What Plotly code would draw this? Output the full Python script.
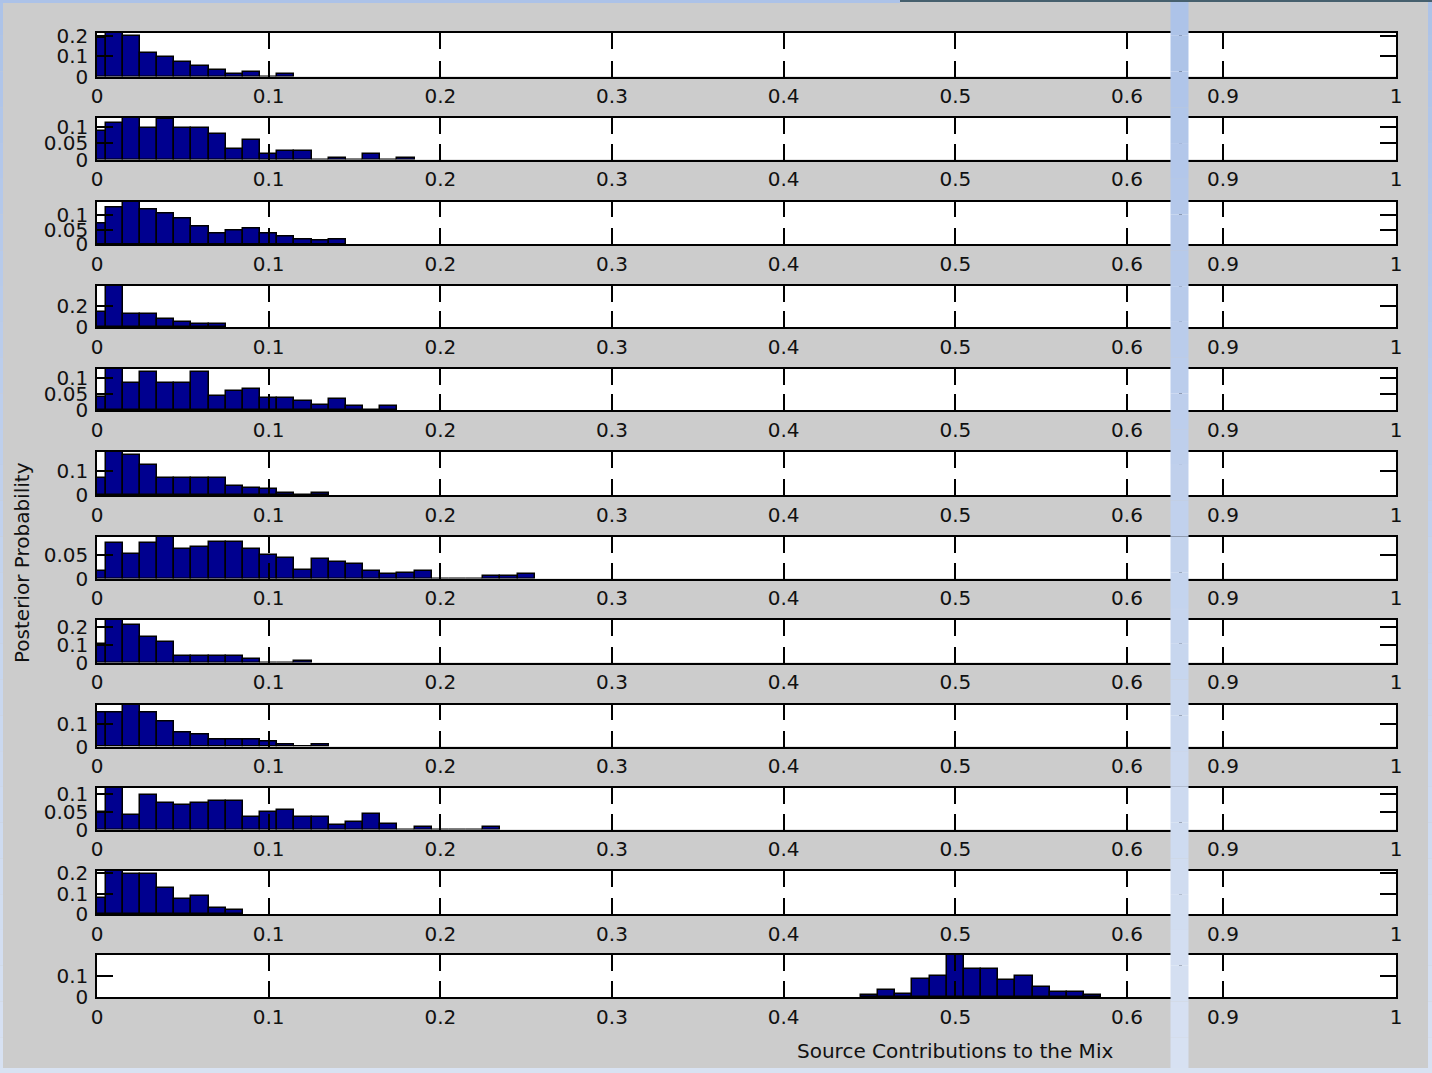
import plotly.graph_objects as go

# Posterior probability histograms, one row per source (bin width 0.01,
# bins centred on multiples of 0.01).  Each row: first bin centre + heights.
BIN_WIDTH = 0.01

src01_start = 0.0
src01 = [0.190, 0.215, 0.198, 0.116, 0.096, 0.073, 0.053, 0.030, 0.010, 0.020, 0.000, 0.013]

src02_start = 0.0
src02 = [0.086, 0.112, 0.127, 0.096, 0.124, 0.096, 0.096, 0.077, 0.032, 0.060, 0.017, 0.027,
         0.027, 0.000, 0.005, 0.000, 0.018, 0.000, 0.005]

src03_start = 0.0
src03 = [0.072, 0.127, 0.148, 0.121, 0.107, 0.090, 0.061, 0.035, 0.047, 0.055, 0.035, 0.026,
         0.017, 0.012, 0.017]

src04_start = 0.0
src04 = [0.147, 0.398, 0.131, 0.131, 0.082, 0.049, 0.026, 0.026]

src05_start = 0.0
src05 = [0.041, 0.128, 0.085, 0.118, 0.085, 0.085, 0.118, 0.044, 0.059, 0.065, 0.038, 0.038,
         0.028, 0.017, 0.033, 0.012, 0.000, 0.012]

src06_start = 0.0
src06 = [0.073, 0.182, 0.168, 0.126, 0.073, 0.073, 0.073, 0.073, 0.039, 0.031, 0.024, 0.007,
         0.000, 0.007]

src07_start = 0.0
src07 = [0.016, 0.076, 0.053, 0.076, 0.090, 0.063, 0.068, 0.079, 0.079, 0.063, 0.050, 0.045,
         0.019, 0.042, 0.036, 0.031, 0.016, 0.009, 0.012, 0.017, 0.000, 0.000, 0.000, 0.005,
         0.005, 0.009]

src08_start = 0.0
src08 = [0.103, 0.238, 0.210, 0.144, 0.116, 0.036, 0.036, 0.036, 0.036, 0.019, 0.000, 0.000,
         0.007]

src09_start = 0.0
src09 = [0.152, 0.152, 0.190, 0.152, 0.111, 0.065, 0.056, 0.030, 0.030, 0.030, 0.023, 0.008,
         0.000, 0.011]

src10_start = 0.0
src10 = [0.050, 0.117, 0.040, 0.098, 0.075, 0.070, 0.075, 0.080, 0.080, 0.035, 0.050, 0.055,
         0.036, 0.036, 0.012, 0.022, 0.045, 0.016, 0.000, 0.007, 0.000, 0.000, 0.000, 0.007]

src11_start = 0.0
src11 = [0.077, 0.210, 0.197, 0.197, 0.128, 0.071, 0.087, 0.029, 0.020]

src12_start = 0.45
src12 = [0.008, 0.032, 0.016, 0.087, 0.098, 0.198, 0.130, 0.130, 0.082, 0.098, 0.048, 0.024,
         0.024, 0.008]

# y tick spacing used on each row
ytick_steps = [0.1, 0.05, 0.05, 0.2, 0.05, 0.1, 0.05, 0.1, 0.1, 0.05, 0.1, 0.1]

x_label = "Source Contributions to the Mix"
y_label = "Posterior Probability"

rows = [
    (src01_start, src01), (src02_start, src02), (src03_start, src03), (src04_start, src04),
    (src05_start, src05), (src06_start, src06), (src07_start, src07), (src08_start, src08),
    (src09_start, src09), (src10_start, src10), (src11_start, src11), (src12_start, src12),
]

# ---------------------------------------------------------------- layout geometry
W, H = 1432, 1073
row_tops = [33, 118, 201.5, 286, 369, 452, 537, 620, 704.5, 788, 871, 955]
row_bots = [76.5, 159.5, 244, 327, 410, 495, 578.5, 662.5, 746.5, 829.5, 914, 997]

# the 0..1 axis is shown in two pieces: 0..~0.63 and ~0.876..1
left_px = (97, 1180)
right_px = (1181, 1396)
left_range = [0, (left_px[1] - left_px[0]) / 1716.7]
right_range = [1 - (right_px[1] - right_px[0]) / 1730.0, 1.0]

FONT = dict(family="DejaVu Sans, Liberation Sans, sans-serif", size=20, color="#111111")
BAR_FILL = "#00008f"
BG = "#cccccc"

fig = go.Figure()
layout = dict(
    width=W, height=H, autosize=False,
    margin=dict(l=0, r=0, t=0, b=0, pad=0, autoexpand=False),
    paper_bgcolor=BG, plot_bgcolor="white",
    showlegend=False, font=FONT, bargap=0,
)

axis_common = dict(
    showline=True, linecolor="black", linewidth=1.5,
    ticks="inside", ticklen=16, tickwidth=1.5, tickcolor="black",
    showgrid=False, zeroline=False, tickfont=FONT, automargin=False,
)

for r, (start, heights) in enumerate(rows):
    centers = [round(start + BIN_WIDTH * i, 4) for i in range(len(heights))]
    ymax = max(heights)
    ydom = [1 - row_bots[r] / H, 1 - row_tops[r] / H]
    for side in (0, 1):
        n = 2 * r + side + 1
        xa = "x" if n == 1 else f"x{n}"
        ya = "y" if n == 1 else f"y{n}"
        xkey = "xaxis" if n == 1 else f"xaxis{n}"
        ykey = "yaxis" if n == 1 else f"yaxis{n}"
        px = left_px if side == 0 else right_px
        fig.add_trace(go.Bar(
            x=centers, y=heights, width=BIN_WIDTH,
            marker=dict(color=BAR_FILL, line=dict(color="black", width=1.5)),
            xaxis=xa, yaxis=ya, hoverinfo="skip", cliponaxis=True,
        ))
        layout[xkey] = dict(
            axis_common, domain=[px[0] / W, px[1] / W], anchor=ya,
            range=left_range if side == 0 else right_range,
            tick0=0, dtick=0.1, mirror="ticks", ticklabelstandoff=1,
        )
        layout[ykey] = dict(
            axis_common, domain=ydom, anchor=xa, range=[0, ymax],
            tick0=0, dtick=ytick_steps[r], mirror=True,
            side="left" if side == 0 else "right",
            showticklabels=(side == 0), ticklabelstandoff=3,
        )

fig.update_layout(**layout)

# axis titles
fig.add_annotation(text=x_label, xref="x23", x=0.5, yref="paper", y=1 - 1051 / H,
                   showarrow=False, font=FONT, xanchor="center", yanchor="middle")
fig.add_annotation(text=y_label, xref="paper", x=22 / W, yref="paper", y=1 - 563 / H,
                   showarrow=False, font=FONT, textangle=-90,
                   xanchor="center", yanchor="middle")

# window frame and the divider that hides the skipped part of the axis
def blend(c1, c2, t):
    return "rgb({},{},{})".format(*[round(a + (b - a) * t) for a, b in zip(c1, c2)])

top_blue = (172, 194, 232)
low_blue = (216, 226, 242)
steps = 30
shapes = []
for k in range(steps):
    y0 = H * k / steps
    y1 = H * (k + 1) / steps
    col = blend(top_blue, low_blue, (k + 0.5) / steps)
    for x0, x1 in ((1170.5, 1188.5), (0, 3), (1428, W)):
        shapes.append(dict(type="rect", xref="paper", yref="paper", layer="above",
                           x0=x0 / W, x1=x1 / W, y0=1 - y1 / H, y1=1 - y0 / H,
                           fillcolor=col, line=dict(width=0)))
shapes.append(dict(type="rect", xref="paper", yref="paper", layer="above",
                   x0=0, x1=900 / W, y0=1 - 3 / H, y1=1,
                   fillcolor="rgb(172,194,232)", line=dict(width=0)))
shapes.append(dict(type="rect", xref="paper", yref="paper", layer="above",
                   x0=900 / W, x1=1, y0=1 - 2 / H, y1=1,
                   fillcolor="rgb(70,96,110)", line=dict(width=0)))
shapes.append(dict(type="rect", xref="paper", yref="paper", layer="above",
                   x0=0, x1=1, y0=0, y1=5 / H,
                   fillcolor="rgb(216,226,242)", line=dict(width=0)))
fig.update_layout(shapes=shapes)

fig.write_html("out.html")
